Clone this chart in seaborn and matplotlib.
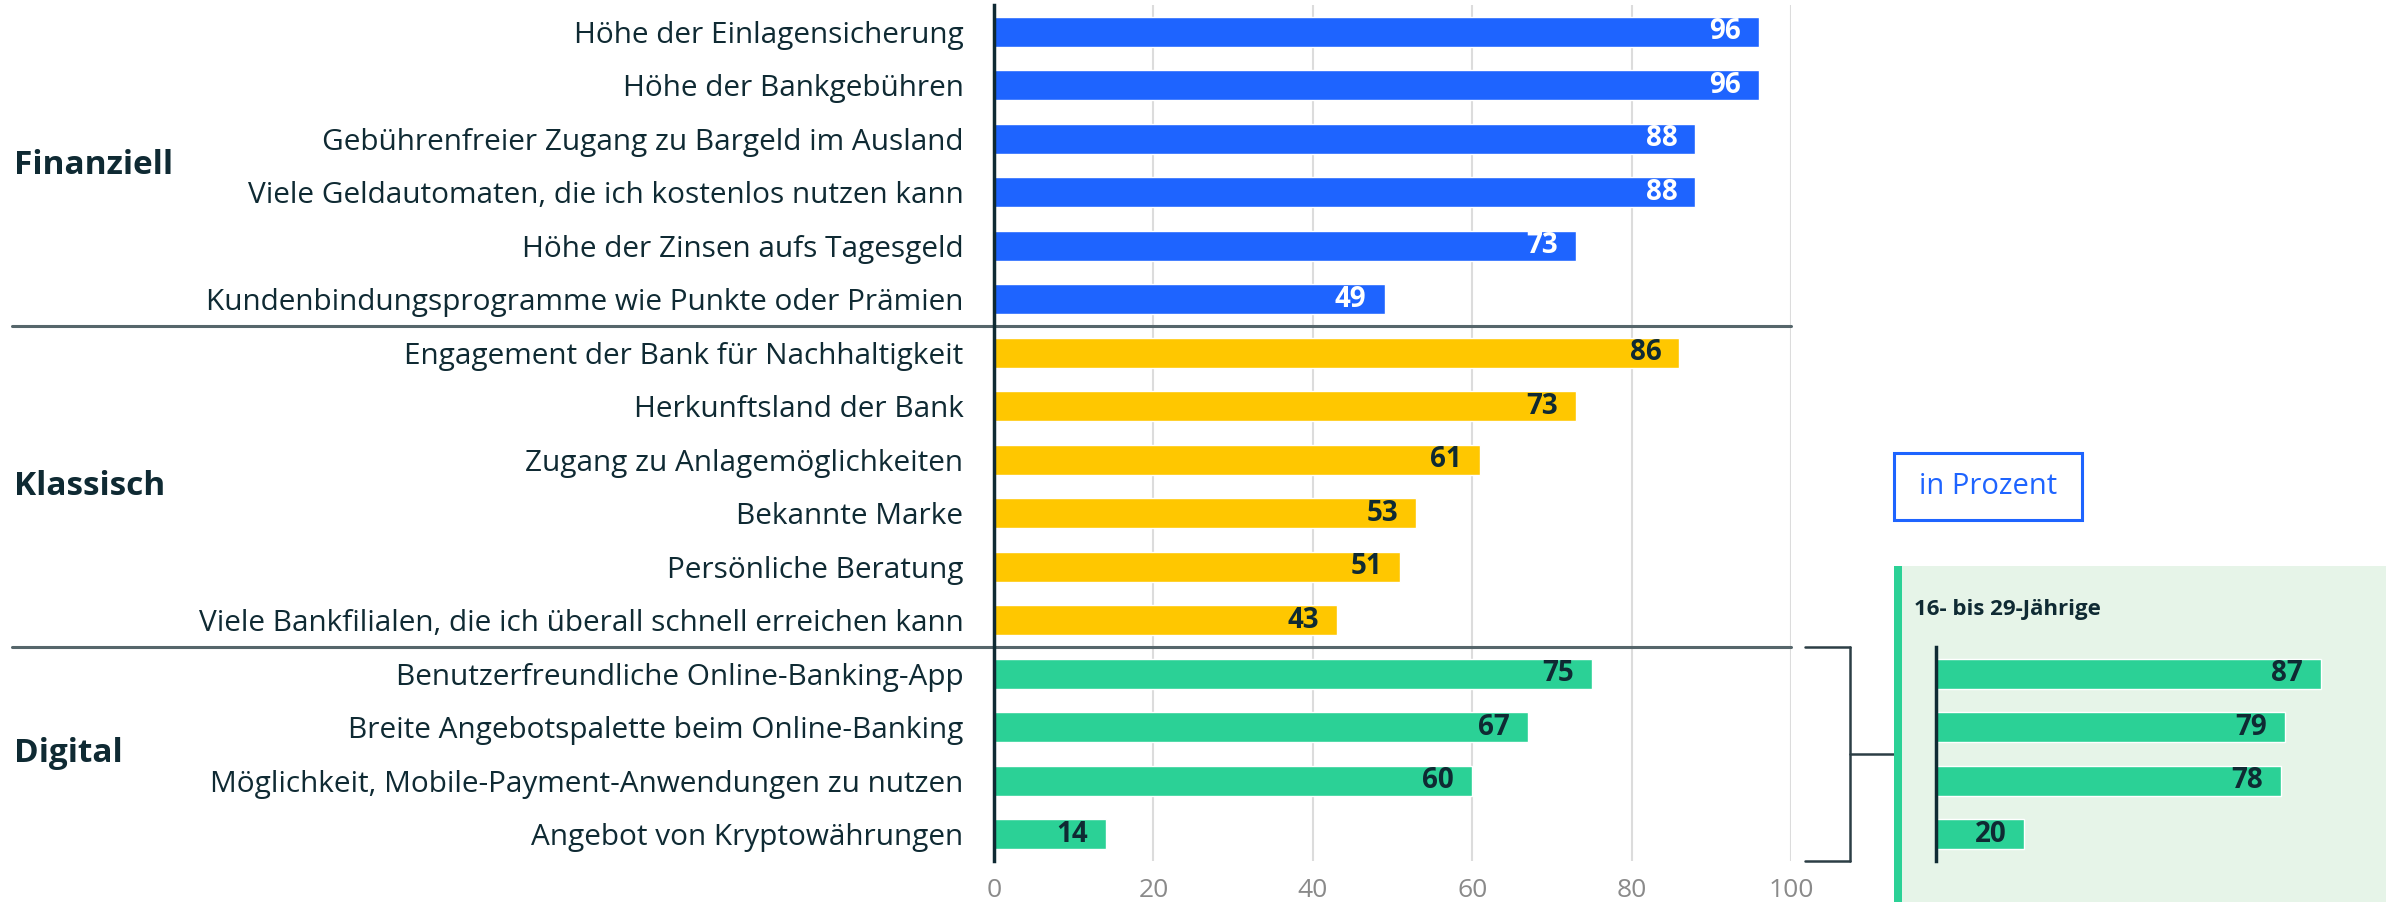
import matplotlib
matplotlib.use("Agg")
import matplotlib.pyplot as plt
import seaborn as sns
import pandas as pd
from matplotlib.patches import Rectangle
from matplotlib.lines import Line2D

# data
labels = [
    "Höhe der Einlagensicherung",
    "Höhe der Bankgebühren",
    "Gebührenfreier Zugang zu Bargeld im Ausland",
    "Viele Geldautomaten, die ich kostenlos nutzen kann",
    "Höhe der Zinsen aufs Tagesgeld",
    "Kundenbindungsprogramme wie Punkte oder Prämien",
    "Engagement der Bank für Nachhaltigkeit",
    "Herkunftsland der Bank",
    "Zugang zu Anlagemöglichkeiten",
    "Bekannte Marke",
    "Persönliche Beratung",
    "Viele Bankfilialen, die ich überall schnell erreichen kann",
    "Benutzerfreundliche Online-Banking-App",
    "Breite Angebotspalette beim Online-Banking",
    "Möglichkeit, Mobile-Payment-Anwendungen zu nutzen",
    "Angebot von Kryptowährungen",
]
values = [96, 96, 88, 88, 73, 49, 86, 73, 61, 53, 51, 43, 75, 67, 60, 14]
groups = ["Finanziell"] * 6 + ["Klassisch"] * 6 + ["Digital"] * 4
group_names = ["Finanziell", "Klassisch", "Digital"]

young_labels = labels[12:]
young_values = [87, 79, 78, 20]

BLUE = "#1E64FF"
YELLOW = "#FFC700"
GREEN = "#2BD196"
DARK = "#0F2A33"
palette = {"Finanziell": BLUE, "Klassisch": YELLOW, "Digital": GREEN}
text_colors = {"Finanziell": "white", "Klassisch": DARK, "Digital": DARK}

df = pd.DataFrame({"Merkmal": labels, "Wert": values, "Gruppe": groups})
df_young = pd.DataFrame({"Merkmal": young_labels, "Wert": young_values})

sns.set_theme(style="white")
plt.rcParams["font.family"] = ["Open Sans", "DejaVu Sans"]
BOLD = ["Open Sans", "DejaVu Sans"]

W, H = 2386, 902
fig = plt.figure(figsize=(W / 100, H / 100), dpi=100)

# main axes: x 0 at px 994, 100 at px 1791; rows from px 5 to 861
ax = fig.add_axes([994 / W, 1 - 861 / H, (1791 - 994) / W, (861 - 5) / H])
sns.barplot(data=df, y="Merkmal", x="Wert", hue="Gruppe", palette=palette,
            order=labels, dodge=False, width=0.56, legend=False, ax=ax,
            saturation=1)
ax.set_xlim(0, 100)
ax.set_ylim(len(labels) - 0.5, -0.5)
ax.set_xlabel("")
ax.set_ylabel("")
ax.set_xticks([0, 20, 40, 60, 80, 100])
ax.grid(axis="x", color="#DCDCDC", linewidth=1.5)
ax.set_axisbelow(True)
for s in ["top", "right", "bottom"]:
    ax.spines[s].set_visible(False)
ax.spines["left"].set_color(DARK)
ax.spines["left"].set_linewidth(2.5)
ax.tick_params(axis="y", length=0, pad=22, labelsize=21.4, labelcolor=DARK)
ax.tick_params(axis="x", length=0, pad=12, labelsize=19, labelcolor="#8A8A8A")

for i, (v, g) in enumerate(zip(values, groups)):
    ax.annotate(str(v), xy=(v, i), xytext=(-13, 0), textcoords="offset points",
                ha="right", va="center", fontsize=20, fontweight="bold",
                family=BOLD, color=text_colors[g])

# group separators and group titles
trans = ax.get_yaxis_transform()
x_left = (12 - 994) / (1791 - 994)
for yb in [5.5, 11.5]:
    ax.add_line(Line2D([x_left, 1.0], [yb, yb], transform=trans, color="#56666B",
                       linewidth=2.2, clip_on=False))
for k, g in enumerate(group_names):
    idx = [i for i, gg in enumerate(groups) if gg == g]
    yc = (idx[0] + idx[-1]) / 2
    ax.text(x_left + 0.003, yc, g, transform=trans, ha="left", va="center",
            fontsize=24, fontweight="bold", family=BOLD, color=DARK)

# bracket linking digital rows to the inset
bx0, bx1, bx2 = 101.8, 107.4, 112.9
kw = dict(color="#2C3E45", linewidth=1.8, clip_on=False)
ax.plot([bx0, bx1], [11.5, 11.5], **kw)
ax.plot([bx0, bx1], [15.5, 15.5], **kw)
ax.plot([bx1, bx1], [11.5, 15.5], **kw)
ax.plot([bx1, bx2], [13.5, 13.5], **kw)

# "in Prozent" box
fig.patches.append(Rectangle((1894 / W, 1 - 520 / H), 188 / W, 67 / H,
                             transform=fig.transFigure, facecolor="white",
                             edgecolor=BLUE, linewidth=2.2))
fig.text(1988 / W, 1 - 487 / H, "in Prozent", ha="center", va="center",
         fontsize=21, color=BLUE)

# inset panel
fig.patches.append(Rectangle((1894 / W, 0), (W - 1894) / W, (H - 566) / H,
                             transform=fig.transFigure, facecolor="#E6F4E8",
                             edgecolor="none", zorder=0))
fig.patches.append(Rectangle((1894 / W, 0), 8 / W, (H - 566) / H,
                             transform=fig.transFigure, facecolor=GREEN,
                             edgecolor="none", zorder=0))
fig.text(1914 / W, 1 - 609 / H, "16- bis 29-Jährige", ha="left", va="center",
         fontsize=16, fontweight="bold", family=BOLD, color=DARK)

ax2 = fig.add_axes([1936 / W, 1 - 861 / H, 442 / W, (861 - 647) / H])
ax2.set_zorder(3)
ax2.patch.set_alpha(0)
sns.barplot(data=df_young, y="Merkmal", x="Wert", color=GREEN, saturation=1,
            order=young_labels, width=0.56, ax=ax2)
ax2.set_xlim(0, 100)
ax2.set_ylim(3.5, -0.5)
ax2.set_xticks([])
ax2.set_yticks([])
ax2.set_xlabel("")
ax2.set_ylabel("")
for s in ["top", "right", "bottom"]:
    ax2.spines[s].set_visible(False)
ax2.spines["left"].set_color(DARK)
ax2.spines["left"].set_linewidth(2.5)
for i, v in enumerate(young_values):
    ax2.annotate(str(v), xy=(v, i), xytext=(-13, 0), textcoords="offset points",
                 ha="right", va="center", fontsize=20, fontweight="bold",
                 family=BOLD, color=DARK)

fig.savefig("out.png", dpi=100)
